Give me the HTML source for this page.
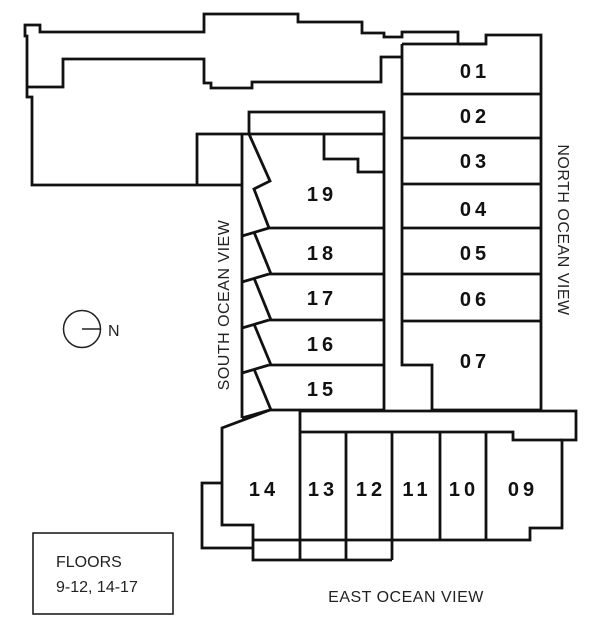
<!DOCTYPE html>
<html><head><style>
html,body{margin:0;padding:0;background:#fff;}
svg{display:block;}
.n{font-family:"Liberation Sans",sans-serif;font-weight:bold;font-size:20px;letter-spacing:4px;text-anchor:middle;fill:#111;}
.t{font-family:"Liberation Sans",sans-serif;font-size:16px;fill:#222;}
</style></head><body>
<svg width="612" height="639" viewBox="0 0 612 639" xmlns="http://www.w3.org/2000/svg">
<g fill="none" stroke="#111" stroke-width="2.8" stroke-linejoin="miter">
<polyline points="242,185 32,185 32,97 27,97 27,36 25,36 25,25 40,25 40,32 204,32 204,14 298,14 298,22 362,22 362,33 384,33 384,37 402,37 402,32 458,32 458,44"/>
<polyline points="27,87 63,87 63,59 204,59 204,83 211,83 211,88 252,88 252,82 381,82 381,57 402,57"/>
<polyline points="402,44 486,44 486,35 541,35 541,410 432,410 432,365 402,365 402,44"/>
<line x1="458" y1="44" x2="486" y2="44"/>
<line x1="402" y1="94" x2="541" y2="94"/>
<line x1="402" y1="138" x2="541" y2="138"/>
<line x1="402" y1="184" x2="541" y2="184"/>
<line x1="402" y1="228" x2="541" y2="228"/>
<line x1="402" y1="274" x2="541" y2="274"/>
<line x1="402" y1="321" x2="541" y2="321"/>
<polyline points="197,185 197,134 384,134 384,410 270,410"/>
<polyline points="249,134 249,112 384,112 384,134"/>
<line x1="242" y1="134" x2="242" y2="418"/>
<polyline points="324,134 324,159 358,159 358,172 384,172"/>
<polyline points="249,134 270,181 254,189 269,228"/>
<line x1="269" y1="228" x2="384" y2="228"/>
<line x1="269" y1="274" x2="384" y2="274"/>
<line x1="269" y1="320" x2="384" y2="320"/>
<line x1="269" y1="365" x2="384" y2="365"/>
<line x1="242" y1="236" x2="269" y2="228"/>
<line x1="242" y1="282" x2="269" y2="274"/>
<line x1="242" y1="328" x2="269" y2="320"/>
<line x1="242" y1="373" x2="269" y2="365"/>
<line x1="254" y1="232" x2="271" y2="274"/>
<line x1="254" y1="278" x2="271" y2="320"/>
<line x1="254" y1="324" x2="271" y2="365"/>
<line x1="254" y1="369" x2="271" y2="410"/>
<polyline points="242,418 270,410"/>
<polyline points="270,410 222,428 222,525 253,525 253,560 392,560 Q490,557 585,548 573,486 563,486"/>
<polyline points="222,483 202,483 202,548 253,548"/>
<polyline points="300,560 300,411 576,411 576,440 562,440 562,528 530,528 530,540 253,540"/>
<polyline points="300,432 513,432 513,440 562,440"/>
<line x1="346" y1="432" x2="346" y2="560"/>
<line x1="392" y1="432" x2="392" y2="560"/>
<line x1="440" y1="432" x2="440" y2="540"/>
<line x1="486" y1="432" x2="486" y2="540"/>
</g>
<g class="n">
<text x="475" y="78">01</text><text x="475" y="123">02</text><text x="475" y="168">03</text>
<text x="475" y="216">04</text><text x="475" y="260">05</text><text x="475" y="306">06</text>
<text x="475" y="368">07</text>
<text x="322" y="201">19</text><text x="322" y="260">18</text><text x="322" y="305">17</text>
<text x="322" y="351">16</text><text x="322" y="396">15</text>
<text x="264" y="496">14</text><text x="323" y="496">13</text><text x="371" y="496">12</text>
<text x="417" y="496">11</text><text x="464" y="496">10</text><text x="523" y="496">09</text>
</g>
<text class="t" transform="translate(558,230) rotate(90)" text-anchor="middle" font-size="17" letter-spacing="0.5">NORTH OCEAN VIEW</text>
<text class="t" transform="translate(229,305) rotate(-90)" text-anchor="middle" font-size="17" letter-spacing="0.5">SOUTH OCEAN VIEW</text>
<text class="t" x="406" y="602" text-anchor="middle" font-size="17" letter-spacing="0.5">EAST OCEAN VIEW</text>
<circle cx="82" cy="329" r="18.5" fill="none" stroke="#222" stroke-width="1.5"/>
<line x1="82" y1="329" x2="100" y2="329" stroke="#222" stroke-width="1.5"/>
<text class="t" x="108" y="336" font-size="17">N</text>
<rect x="33" y="533" width="140" height="81" fill="none" stroke="#111" stroke-width="1.5"/>
<text class="t" x="56" y="567" font-size="18">FLOORS</text>
<text class="t" x="56" y="592" font-size="18">9-12, 14-17</text>
</svg>
</body></html>
